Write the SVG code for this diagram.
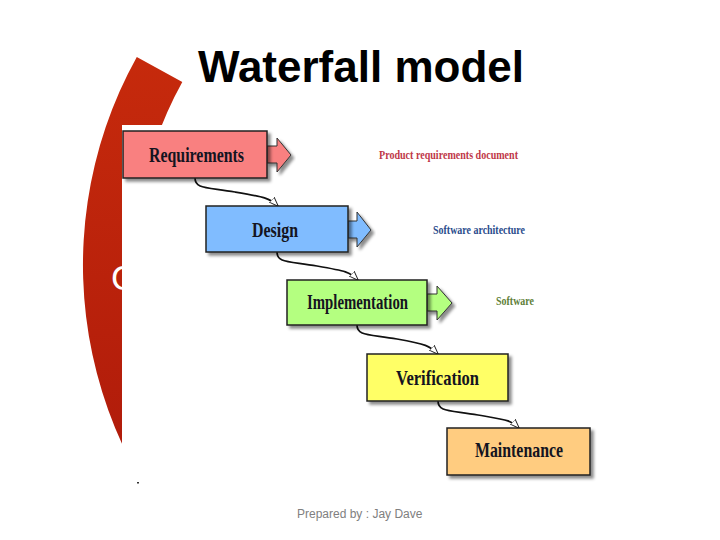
<svg xmlns="http://www.w3.org/2000/svg" width="720" height="540" viewBox="0 0 720 540">
  <defs>
    <linearGradient id="redg" x1="0" y1="0" x2="0" y2="1">
      <stop offset="0" stop-color="#c62a0c"/>
      <stop offset="1" stop-color="#a8160a"/>
    </linearGradient>
    <filter id="shadow" x="-10%" y="-10%" width="130%" height="140%">
      <feDropShadow dx="3" dy="3" stdDeviation="1.8" flood-color="#000" flood-opacity="0.45"/>
    </filter>
    <marker id="open" viewBox="0 0 10 8" refX="9" refY="4" markerWidth="10" markerHeight="8" markerUnits="userSpaceOnUse" orient="auto">
      <path d="M0,0.5 L9.5,4 L0,7.5 Z" fill="#fff" stroke="#222" stroke-width="1"/>
    </marker>
    <style>
      .box { stroke: #222; stroke-width: 1.5; filter: url(#shadow); }
      .arr { stroke: #333; stroke-width: 1; filter: url(#shadow); }
      .btxt { font-family: "Liberation Serif", "Times New Roman", serif; font-weight: bold; font-size: 22px; fill: #141420; text-anchor: start; }
      .lbl { font-family: "Liberation Serif", "Times New Roman", serif; font-weight: bold; font-size: 13px; }
      .conn { fill: none; stroke: #111; stroke-width: 1.7; marker-end: url(#open); }
    </style>
  </defs>

  <rect width="720" height="540" fill="#fff"/>

  <!-- red crescent background -->
  <path d="M136.8,56.9 A429,429 0 0 0 254.6,608.2 L285.8,566.6 A377,377 0 0 1 182.3,82.1 Z" fill="url(#redg)"/>
  <text x="111" y="290" font-family="Liberation Sans, Arial, sans-serif" font-size="35" fill="#fff">C</text>

  <!-- white picture area -->
  <rect x="122" y="125" width="598" height="415" fill="#fff"/>
  <rect x="137" y="482" width="2" height="1.5" fill="#333"/>

  <!-- title -->
  <text x="198" y="82" font-family="Liberation Sans, Arial, sans-serif" font-weight="bold" font-size="44" fill="#000">Waterfall model</text>

  <!-- connectors -->
  <g id="connectors">
    <path class="conn" d="M195,178 C195,189 206,187 235,192 S270,198 278,206"/>
    <path class="conn" d="M277,252 C277,263 288,261 317,266 S350,272 358,280"/>
    <path class="conn" d="M357,325 C357,336 368,334 397,339 S430,346 438,354"/>
    <path class="conn" d="M438,401 C438,412 449,410 478,415 S511,420 519,428"/>
  </g>

  <g id="requirements">
    <polygon class="arr" fill="#f98080" points="267,146 277,146 277,138 291,155 277,172 277,163 267,163"/>
    <rect class="box" x="123" y="131" width="144" height="47" fill="#f98080"/>
    <text class="btxt" x="149" y="162" textLength="95" lengthAdjust="spacingAndGlyphs">Requirements</text>
  </g>
  <text class="lbl" x="379" y="159" fill="#c03848" textLength="139" lengthAdjust="spacingAndGlyphs">Product requirements document</text>

  <g id="design">
    <polygon class="arr" fill="#80bcff" points="348,221 357,221 357,212 371,230 357,247 357,238 348,238"/>
    <rect class="box" x="206" y="206" width="142" height="46" fill="#80bcff"/>
    <text class="btxt" x="252" y="237" textLength="46" lengthAdjust="spacingAndGlyphs">Design</text>
  </g>
  <text class="lbl" x="433" y="234" fill="#2a4c8c" textLength="92" lengthAdjust="spacingAndGlyphs">Software architecture</text>

  <g id="implementation">
    <polygon class="arr" fill="#b4ff80" points="427,294 437,294 437,286 452,303 437,320 437,311 427,311"/>
    <rect class="box" x="287" y="280" width="140" height="45" fill="#b4ff80"/>
    <text class="btxt" x="307" y="309" textLength="101" lengthAdjust="spacingAndGlyphs">Implementation</text>
  </g>
  <text class="lbl" x="496" y="305" fill="#5e8038" textLength="38" lengthAdjust="spacingAndGlyphs">Software</text>

  <g id="verification">
    <rect class="box" x="367" y="354" width="141" height="47" fill="#ffff66"/>
    <text class="btxt" x="396" y="385" textLength="83" lengthAdjust="spacingAndGlyphs">Verification</text>
  </g>

  <g id="maintenance">
    <rect class="box" x="447" y="428" width="143" height="47" fill="#ffcc80"/>
    <text class="btxt" x="475" y="457" textLength="88" lengthAdjust="spacingAndGlyphs">Maintenance</text>
  </g>

  <text x="297" y="518" font-family="Liberation Sans, Arial, sans-serif" font-size="12" fill="#808080">Prepared by : Jay Dave</text>
</svg>
